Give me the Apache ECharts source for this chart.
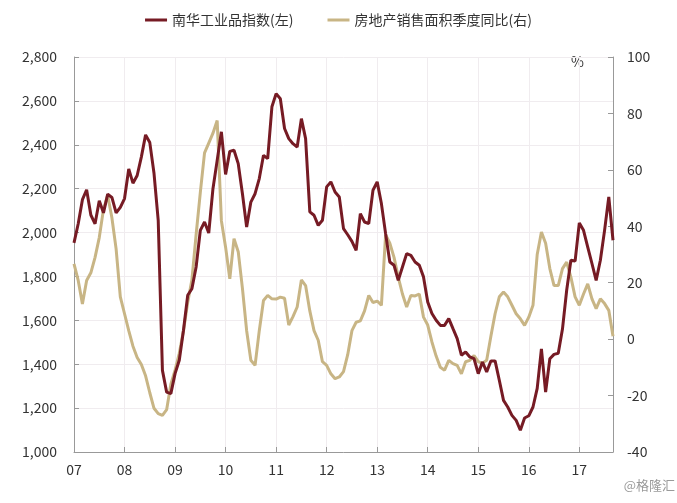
<!DOCTYPE html>
<html>
<head>
<meta charset="utf-8">
<title>南华工业品指数与房地产销售面积</title>
<script src="https://cdn.jsdelivr.net/npm/echarts@6/dist/echarts.min.js"></script>
<style>
html, body { margin: 0; padding: 0; background: #fff; }
#tx { width: 677px; height: 503px; }
</style>
</head>
<body>
<div id="tx"></div>
<script>
// 年份刻度
var years = ['07', '08', '09', '10', '11', '12', '13', '14', '15', '16', '17'];

// 南华工业品指数(左), 2007-01 ~ 2017-09 月度
var nanhua = [
  1953, 2040, 2150, 2195, 2080, 2040, 2145, 2090, 2175, 2160, 2090, 2115,
  2155, 2290, 2225, 2260, 2345, 2445, 2410, 2270, 2055, 1372, 1273, 1266,
  1357, 1418, 1555, 1714, 1744, 1843, 2010, 2048, 1998, 2200, 2329, 2459,
  2265, 2370, 2375, 2314, 2177, 2025, 2139, 2177, 2246, 2352, 2337, 2573,
  2633, 2610, 2474, 2428, 2405, 2390, 2519, 2428, 2094, 2079, 2033, 2056,
  2208, 2231, 2185, 2162, 2018, 1990, 1960, 1919, 2086, 2048, 2041, 2193,
  2231, 2132, 1995, 1866, 1851, 1782, 1843, 1904, 1896, 1866, 1851, 1798,
  1684, 1631, 1600, 1577, 1577, 1608, 1562, 1517, 1441, 1456, 1433, 1425,
  1357, 1410, 1365, 1415, 1415, 1327, 1235, 1205, 1167, 1144, 1099, 1155,
  1165, 1205, 1290, 1470, 1273, 1425, 1445, 1450, 1560, 1737, 1874, 1870,
  2044, 2010, 1934, 1859, 1782, 1874, 2010, 2162, 1965
];

// 房地产销售面积季度同比(右), %
var fangdichan = [
  26.7, 20.8, 12.5, 20.8, 23.5, 29, 36, 46, 51, 43, 32, 15,
  9, 3, -2.5, -6.5, -9, -13, -19, -24.5, -26.4, -27, -25, -16,
  -11, -5, 3, 13, 21, 37, 52, 66, 69.5, 73, 77.5, 42,
  32.6, 21.4, 35.6, 31, 18, 3, -7.5, -9.3, 3, 13.7, 15.5, 14.3,
  14.2, 14.9, 14.5, 5, 8, 11.4, 21, 19, 10, 3, -0.4, -8,
  -9.3, -12.3, -14, -13.4, -11.5, -5.5, 3, 6, 6.5, 10, 15.5, 13,
  13.5, 12, 37, 34, 29, 22, 16, 11.4, 15.5, 15.3, 16, 7.8,
  5, -1, -6, -10, -11, -7.5, -8.7, -9.3, -12.3, -8, -7.5, -5.8,
  -8, -8.5, -7.5, 1, 9, 15, 16.7, 15, 12, 9, 7.2, 4.9,
  7.8, 12, 30, 38, 34, 25, 19, 19, 25, 27.3, 22, 15,
  12, 16, 19.6, 14.3, 10.8, 14.3, 12.6, 10.2, 1
];

var months = [];
for (var i = 0; i < nanhua.length; i++) {
  var y = 2007 + Math.floor(i / 12);
  var m = i % 12 + 1;
  months.push(y + '-' + (m < 10 ? '0' + m : m));
}

var font = 'Noto Sans CJK SC';
var myChart = echarts.init(document.getElementById('tx'));
var option = {
  backgroundColor: '#fff',
  textStyle: { fontFamily: font },
  legend: {
    top: 8,
    left: 'center',
    itemGap: 34,
    itemWidth: 22,
    itemHeight: 3,
    icon: 'rect',
    textStyle: { fontFamily: font, fontSize: 14, color: '#333' },
    data: ['南华工业品指数(左)', '房地产销售面积季度同比(右)']
  },
  grid: { left: 74, right: 64, top: 57, bottom: 51 },
  xAxis: {
    type: 'category',
    boundaryGap: false,
    data: months,
    axisLine: { onZero: false, lineStyle: { color: '#999' } },
    axisTick: { inside: true, length: 5, interval: 11, lineStyle: { color: '#999' } },
    axisLabel: {
      interval: 11,
      margin: 11,
      fontSize: 14,
      color: '#333',
      fontFamily: font,
      formatter: function (v, idx) { return years[Math.floor(idx / 12)]; }
    },
    splitLine: { show: true, interval: 11, lineStyle: { color: '#f0ecef' } }
  },
  yAxis: [{
    type: 'value',
    min: 1000,
    max: 2800,
    interval: 200,
    axisLine: { show: true, lineStyle: { color: '#999' } },
    axisTick: { show: true, inside: true, length: 5, lineStyle: { color: '#999' } },
    axisLabel: {
      margin: 17,
      fontSize: 14,
      color: '#333',
      fontFamily: font,
      formatter: function (v) { return v.toLocaleString('en-US'); }
    },
    splitLine: { lineStyle: { color: '#f0ecef' } }
  }, {
    type: 'value',
    min: -40,
    max: 100,
    interval: 20,
    axisLine: { show: true, lineStyle: { color: '#999' } },
    axisTick: { show: true, inside: true, length: 5, lineStyle: { color: '#999' } },
    axisLabel: { margin: 14, fontSize: 14, color: '#333', fontFamily: font },
    splitLine: { show: false }
  }],
  graphic: [{
    type: 'text',
    left: 571,
    top: 55,
    style: { text: '%', fontSize: 14, fill: '#333', fontFamily: font }
  }, {
    type: 'text',
    right: 2,
    top: 479,
    style: { text: '@格隆汇', fontSize: 13, fill: '#9a9a9a', fontFamily: font }
  }],
  series: [{
    name: '房地产销售面积季度同比(右)',
    type: 'line',
    yAxisIndex: 1,
    data: fangdichan,
    showSymbol: false,
    symbol: 'none',
    lineStyle: { width: 3, color: '#c8b585' },
    itemStyle: { color: '#c8b585' }
  }, {
    name: '南华工业品指数(左)',
    type: 'line',
    yAxisIndex: 0,
    data: nanhua,
    showSymbol: false,
    symbol: 'none',
    lineStyle: { width: 3, color: '#761b24' },
    itemStyle: { color: '#761b24' }
  }]
};
myChart.setOption(option);
</script>
</body>
</html>
